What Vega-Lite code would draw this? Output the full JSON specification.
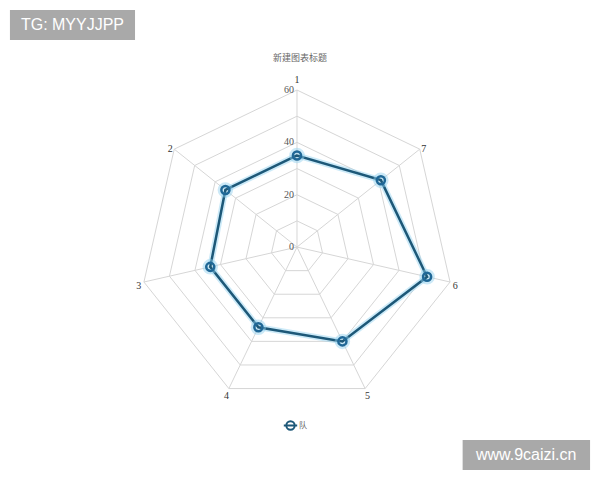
{
  "$schema": "https://vega.github.io/schema/vega-lite/v6.json",
  "width": 600,
  "height": 480,
  "padding": 0,
  "autosize": "none",
  "background": "white",
  "config": {"view": {"stroke": null}},
  "title": {"text": "新建图表标题", "font": "Noto Sans CJK SC", "fontSize": 9, "fontWeight": "normal", "color": "#666666", "anchor": "middle", "baseline": "middle", "offset": 0, "dy": 67},
  "datasets": {
    "series": [
      {"axis": 1, "value": 35, "series": "队"},
      {"axis": 2, "value": 35, "series": "队"},
      {"axis": 3, "value": 34, "series": "队"},
      {"axis": 4, "value": 34, "series": "队"},
      {"axis": 5, "value": 40, "series": "队"},
      {"axis": 6, "value": 51, "series": "队"},
      {"axis": 7, "value": 41, "series": "队"}
    ],
    "rings": [
      {"ring": 10, "axis": [1, 2, 3, 4, 5, 6, 7]},
      {"ring": 20, "axis": [1, 2, 3, 4, 5, 6, 7]},
      {"ring": 30, "axis": [1, 2, 3, 4, 5, 6, 7]},
      {"ring": 40, "axis": [1, 2, 3, 4, 5, 6, 7]},
      {"ring": 50, "axis": [1, 2, 3, 4, 5, 6, 7]},
      {"ring": 60, "axis": [1, 2, 3, 4, 5, 6, 7]}
    ],
    "spokes": [
      {"axis": 1, "max": 60}, {"axis": 2, "max": 60}, {"axis": 3, "max": 60}, {"axis": 4, "max": 60},
      {"axis": 5, "max": 60}, {"axis": 6, "max": 60}, {"axis": 7, "max": 60}
    ],
    "ticks": [{"v": 0}, {"v": 20}, {"v": 40}, {"v": 60}],
    "marks": [
      {"label": "TG: MYYJJPP", "x1": -109.7, "x2": -61.9, "y1": 90.6, "y2": 79.1, "xc": -85.8, "yc": 84.8},
      {"label": "www.9caizi.cn", "x1": 63.3, "x2": 112.0, "y1": -73.7, "y2": -85.2, "xc": 87.6, "yc": -79.5}
    ]
  },
  "layer": [
    {
      "data": {"name": "rings"},
      "transform": [
        {"flatten": ["axis"]},
        {"calculate": "(datum.axis - 1) * 2 * PI / 7", "as": "a"},
        {"calculate": "-datum.ring * sin(datum.a)", "as": "x"},
        {"calculate": "datum.ring * cos(datum.a)", "as": "y"}
      ],
      "mark": {"type": "line", "interpolate": "linear-closed", "stroke": "#d6d6d6", "strokeWidth": 1},
      "encoding": {
        "x": {"field": "x", "type": "quantitative", "scale": {"domain": [-113.5, 115.8], "nice": false, "zero": false}, "axis": null},
        "y": {"field": "y", "type": "quantitative", "scale": {"domain": [-89.0, 94.4], "nice": false, "zero": false}, "axis": null},
        "detail": {"field": "ring", "type": "nominal"},
        "order": {"field": "axis", "type": "quantitative"}
      }
    },
    {
      "data": {"name": "spokes"},
      "transform": [
        {"calculate": "(datum.axis - 1) * 2 * PI / 7", "as": "a"},
        {"calculate": "-datum.max * sin(datum.a)", "as": "ex"},
        {"calculate": "datum.max * cos(datum.a)", "as": "ey"},
        {"calculate": "0", "as": "ox"},
        {"calculate": "0", "as": "oy"}
      ],
      "mark": {"type": "rule", "stroke": "#d6d6d6", "strokeWidth": 1},
      "encoding": {
        "x": {"field": "ox", "type": "quantitative"},
        "y": {"field": "oy", "type": "quantitative"},
        "x2": {"field": "ex"},
        "y2": {"field": "ey"}
      }
    },
    {
      "data": {"name": "spokes"},
      "transform": [
        {"calculate": "(datum.axis - 1) * 2 * PI / 7", "as": "a"},
        {"calculate": "datum.axis == 1 ? 65 : 62", "as": "lr"},
        {"calculate": "-datum.lr * sin(datum.a)", "as": "x"},
        {"calculate": "datum.lr * cos(datum.a)", "as": "y"}
      ],
      "mark": {"type": "text", "font": "Liberation Serif", "fontSize": 10, "color": "#333333", "align": "center", "baseline": "middle", "dy": 3},
      "encoding": {
        "x": {"field": "x", "type": "quantitative"},
        "y": {"field": "y", "type": "quantitative"},
        "text": {"field": "axis", "type": "nominal"}
      }
    },
    {
      "data": {"name": "ticks"},
      "transform": [{"calculate": "0", "as": "x"}],
      "mark": {"type": "text", "font": "Liberation Serif", "fontSize": 10, "color": "#555555", "align": "right", "baseline": "middle", "dx": -3},
      "encoding": {
        "x": {"field": "x", "type": "quantitative"},
        "y": {"field": "v", "type": "quantitative"},
        "text": {"field": "v", "type": "quantitative"}
      }
    },
    {
      "data": {"name": "series"},
      "transform": [
        {"calculate": "(datum.axis - 1) * 2 * PI / 7", "as": "a"},
        {"calculate": "-datum.value * sin(datum.a)", "as": "x"},
        {"calculate": "datum.value * cos(datum.a)", "as": "y"}
      ],
      "mark": {"type": "line", "interpolate": "linear-closed", "stroke": "#8fd0ef", "strokeWidth": 6, "opacity": 0.45},
      "encoding": {
        "x": {"field": "x", "type": "quantitative"},
        "y": {"field": "y", "type": "quantitative"},
        "order": {"field": "axis", "type": "quantitative"}
      }
    },
    {
      "data": {"name": "series"},
      "transform": [
        {"calculate": "(datum.axis - 1) * 2 * PI / 7", "as": "a"},
        {"calculate": "-datum.value * sin(datum.a)", "as": "x"},
        {"calculate": "datum.value * cos(datum.a)", "as": "y"}
      ],
      "mark": {"type": "line", "interpolate": "linear-closed", "strokeWidth": 2.5},
      "encoding": {
        "x": {"field": "x", "type": "quantitative"},
        "y": {"field": "y", "type": "quantitative"},
        "order": {"field": "axis", "type": "quantitative"},
        "color": {
          "field": "series", "type": "nominal",
          "scale": {"range": ["#1d5878"]},
          "legend": {
            "title": null, "orient": "none", "legendX": 285, "legendY": 420,
            "symbolType": "M-1,0A1,1,0,1,1,1,0A1,1,0,1,1,-1,0ZM-1.6,0L1.6,0",
            "symbolSize": 70, "symbolStrokeWidth": 2,
            "labelFont": "Noto Sans CJK SC", "labelFontSize": 8, "labelColor": "#666666", "labelOffset": 3
          }
        }
      }
    },
    {
      "data": {"name": "series"},
      "transform": [
        {"calculate": "(datum.axis - 1) * 2 * PI / 7", "as": "a"},
        {"calculate": "-datum.value * sin(datum.a)", "as": "x"},
        {"calculate": "datum.value * cos(datum.a)", "as": "y"}
      ],
      "mark": {"type": "point", "filled": false, "shape": "circle", "size": 110, "stroke": "#8fd0ef", "strokeWidth": 5, "opacity": 0.45},
      "encoding": {
        "x": {"field": "x", "type": "quantitative"},
        "y": {"field": "y", "type": "quantitative"}
      }
    },
    {
      "data": {"name": "series"},
      "transform": [
        {"calculate": "(datum.axis - 1) * 2 * PI / 7", "as": "a"},
        {"calculate": "-datum.value * sin(datum.a)", "as": "x"},
        {"calculate": "datum.value * cos(datum.a)", "as": "y"}
      ],
      "mark": {"type": "point", "filled": false, "shape": "circle", "size": 65, "stroke": "#1f6796", "strokeWidth": 2.5, "opacity": 1},
      "encoding": {
        "x": {"field": "x", "type": "quantitative"},
        "y": {"field": "y", "type": "quantitative"}
      }
    },
    {
      "data": {"name": "marks"},
      "mark": {"type": "rect", "fill": "#a9a9a9"},
      "encoding": {
        "x": {"field": "x1", "type": "quantitative"},
        "x2": {"field": "x2"},
        "y": {"field": "y1", "type": "quantitative"},
        "y2": {"field": "y2"}
      }
    },
    {
      "data": {"name": "marks"},
      "mark": {"type": "text", "font": "Liberation Sans", "fontSize": 16, "color": "white", "align": "center", "baseline": "middle"},
      "encoding": {
        "x": {"field": "xc", "type": "quantitative"},
        "y": {"field": "yc", "type": "quantitative"},
        "text": {"field": "label", "type": "nominal"}
      }
    }
  ]
}
